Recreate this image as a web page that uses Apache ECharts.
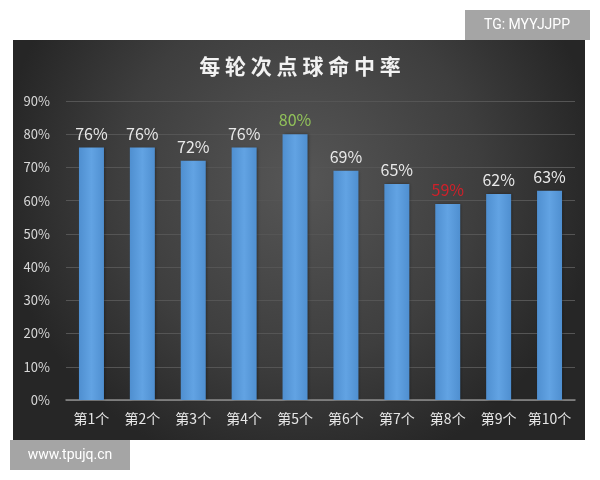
<!DOCTYPE html>
<html lang="zh">
<head>
  <meta charset="UTF-8">
  <title>每轮次点球命中率</title>
  <style>
    html, body { margin: 0; padding: 0; background: #fff; }
    #main { width: 600px; height: 480px; }
  </style>
</head>
<body>
  <div id="main"></div>
  <script src="https://cdn.jsdelivr.net/npm/echarts@6/dist/echarts.min.js"></script>
  <script>
    var categories = ['第1个', '第2个', '第3个', '第4个', '第5个', '第6个', '第7个', '第8个', '第9个', '第10个']
    var rates = [76, 76, 72, 76, 80, 69, 65, 59, 62, 63]
    var yTicks = [0, 10, 20, 30, 40, 50, 60, 70, 80, 90]

    // highlight colours for the best / worst label
    var labelColors = { 80: '#92c35a', 59: '#d0202a' }

    var myChart = echarts.init(document.getElementById('main'))
    var font = '"Noto Sans CJK SC", "Noto Sans", sans-serif'

    var option = {
      backgroundColor: '#ffffff',
      textStyle: { fontFamily: font },
      graphic: [
        {
          type: 'rect', z: -10,
          shape: { x: 13, y: 40, width: 572, height: 400 },
          style: {
            fill: new echarts.graphic.RadialGradient(0.5, 0.35, 0.75, [
              { offset: 0, color: '#565656' },
              { offset: 0.6, color: '#3e3e3e' },
              { offset: 1, color: '#262626' }
            ])
          },
          silent: true
        },
        {
          type: 'group', left: 465, top: 10,
          children: [
            { type: 'rect', shape: { width: 125, height: 30 }, style: { fill: '#a5a5a5' } },
            { type: 'text', x: 62, y: 15, style: { text: 'TG: MYYJJPP', fill: '#fff', font: '14px Roboto, sans-serif', align: 'center', verticalAlign: 'middle' } }
          ]
        },
        {
          type: 'group', left: 10, top: 440,
          children: [
            { type: 'rect', shape: { width: 120, height: 30 }, style: { fill: '#a5a5a5' } },
            { type: 'text', x: 60, y: 15, style: { text: 'www.tpujq.cn', fill: '#fff', font: '14px Roboto, sans-serif', align: 'center', verticalAlign: 'middle' } }
          ]
        }
      ],
      title: {
        text: '每 轮 次 点 球 命 中 率',
        left: 'center',
        top: 51,
        textStyle: { color: '#f2f2f2', fontSize: 21, fontWeight: 'bold', fontFamily: font }
      },
      grid: { left: 66, right: 25, top: 101, bottom: 80 },
      xAxis: {
        type: 'category',
        data: categories,
        axisLine: { lineStyle: { color: '#8c8c8c', width: 1.5 } },
        axisTick: { show: false },
        axisLabel: { color: '#e6e6e6', fontSize: 14, margin: 12, interval: 0, fontFamily: font }
      },
      yAxis: {
        type: 'value',
        min: yTicks[0],
        max: yTicks[yTicks.length - 1],
        interval: 10,
        axisLine: { show: false },
        axisTick: { show: false },
        splitLine: { lineStyle: { color: '#555555', width: 1 } },
        axisLabel: { color: '#d9d9d9', fontSize: 13, margin: 16, formatter: '{value}%', fontFamily: font }
      },
      series: [{
        type: 'bar',
        data: rates.map(function (v) {
          return {
            value: v,
            label: { color: labelColors[v] || '#e8e8e8' }
          }
        }),
        barWidth: 25,
        itemStyle: {
          color: new echarts.graphic.LinearGradient(0, 0, 1, 0, [
            { offset: 0, color: '#4f8fd0' },
            { offset: 0.5, color: '#62a3e3' },
            { offset: 1, color: '#4f8fd0' }
          ]),
          shadowColor: 'rgba(0,0,0,0.4)',
          shadowBlur: 3,
          shadowOffsetX: 1
        },
        label: {
          show: true,
          position: 'top',
          distance: 6,
          fontSize: 16,
          fontFamily: font,
          formatter: '{c}%'
        }
      }]
    }
    myChart.setOption(option)
  </script>
</body>
</html>
